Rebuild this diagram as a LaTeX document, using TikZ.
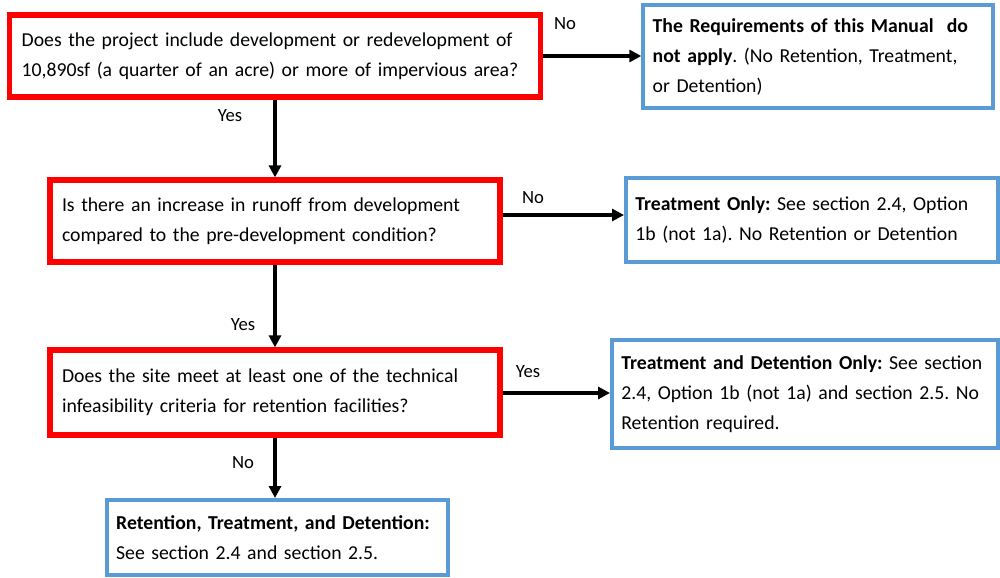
\documentclass[tikz,border=0pt]{standalone}
\usepackage{fontspec}
\setmainfont{Carlito}
\usetikzlibrary{arrows.meta,calc}
\definecolor{boxred}{RGB}{255,0,0}
\definecolor{boxblue}{RGB}{91,155,213}
\tikzset{
  qbox/.style={draw=boxred, line width=3.9pt, fill=white, rectangle, align=left,
    inner xsep=9pt, inner ysep=0pt, font=\fontsize{14.8}{22.5}\selectfont},
  abox/.style={draw=boxblue, line width=3pt, fill=white, rectangle, align=left,
    inner xsep=7pt, inner ysep=0pt, font=\fontsize{14.8}{22.5}\selectfont},
  flow/.style={draw=black, line width=2.3pt, -{Triangle[length=9pt,width=9pt]}},
  lbl/.style={font=\fontsize{14}{16}\selectfont, inner sep=0pt}
}
\begin{document}
\frenchspacing
\begin{tikzpicture}[x=0.75pt,y=-0.75pt]
\useasboundingbox (0,0) rectangle (1000,578);
\node[qbox, text width=380pt, minimum height=61.5pt] (b1) at (275,56)
  {Does the project include development or redevelopment of\\10,890sf (a quarter of an acre) or more of impervious area?};
\node[abox, text width=248pt, minimum height=77.25pt] (b2) at (818,56.5)
  {\textbf{The Requirements of this Manual\ \ do}\\\textbf{not apply}. (No Retention, Treatment,\\or Detention)};
\node[qbox, text width=319.5pt, minimum height=61.5pt] (b3) at (275,221)
  {Is there an increase in runoff from development\\compared to the pre-development condition?\\[-9pt]};
\node[abox, text width=265pt, minimum height=63pt] (b4) at (812,220)
  {\textbf{Treatment Only:} See section 2.4, Option\\1b (not 1a). No Retention or Detention\\[-9pt]};
\node[qbox, text width=319.5pt, minimum height=63.75pt] (b5) at (275,392.5)
  {Does the site meet at least one of the technical\\infeasibility criteria for retention facilities?\\[-7pt]};
\node[abox, text width=275.5pt, minimum height=81pt] (b6) at (805,394)
  {\textbf{Treatment and Detention Only:} See section\\2.4, Option 1b (not 1a) and section 2.5. No\\Retention required.};
\node[abox, text width=242pt, minimum height=56.25pt] (b7) at (277.5,537.5)
  {\textbf{Retention, Treatment, and Detention:}\\See section 2.4 and section 2.5.};
\draw[flow] (b1.east) -- (b1.east -| b2.west);
\draw[flow] (b1.south) -- (b3.north);
\draw[flow] (b3.east |- 0,215) -- (b4.west |- 0,215);
\draw[flow] (b3.south) -- (b5.north);
\draw[flow] (b5.east |- 0,393) -- (b6.west |- 0,393);
\draw[flow] (b5.south) -- (b5.south |- b7.north);
\node[lbl] (l1) at (565,24) {No};
\node[lbl] (l2) at (230,116) {Yes};
\node[lbl] (l3) at (533,198) {No};
\node[lbl] (l4) at (243,325) {Yes};
\node[lbl] (l5) at (528,372) {Yes};
\node[lbl] (l6) at (243,463) {No};
\end{tikzpicture}
\end{document}
